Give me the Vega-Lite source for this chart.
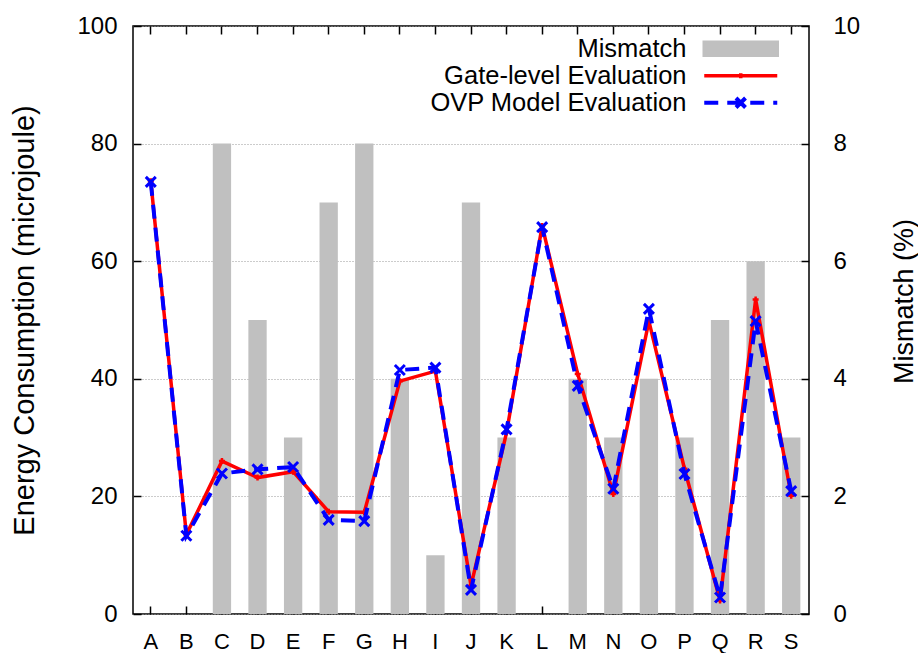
{
  "$schema": "https://vega.github.io/schema/vega-lite/v6.json",
  "width": 676,
  "height": 588,
  "autosize": {"type": "none"},
  "padding": {"left": 133, "top": 26, "right": 109, "bottom": 39},
  "background": "#ffffff",
  "config": {
    "font": "Liberation Sans",
    "view": {"stroke": "#000000", "strokeWidth": 1.5},
    "axis": {
      "domain": false,
      "grid": false,
      "labelFont": "Liberation Sans",
      "labelFontSize": 24,
      "labelColor": "#000000",
      "titleFont": "Liberation Sans",
      "titleFontSize": 27,
      "titleFontWeight": "normal",
      "titleColor": "#000000"
    }
  },
  "datasets": {
    "energy": [
      {"cat": "A", "series": "Mismatch", "value": 0},
      {"cat": "B", "series": "Mismatch", "value": 0},
      {"cat": "C", "series": "Mismatch", "value": 8},
      {"cat": "D", "series": "Mismatch", "value": 5},
      {"cat": "E", "series": "Mismatch", "value": 3},
      {"cat": "F", "series": "Mismatch", "value": 7},
      {"cat": "G", "series": "Mismatch", "value": 8},
      {"cat": "H", "series": "Mismatch", "value": 4},
      {"cat": "I", "series": "Mismatch", "value": 1},
      {"cat": "J", "series": "Mismatch", "value": 7},
      {"cat": "K", "series": "Mismatch", "value": 3},
      {"cat": "L", "series": "Mismatch", "value": 0},
      {"cat": "M", "series": "Mismatch", "value": 4},
      {"cat": "N", "series": "Mismatch", "value": 3},
      {"cat": "O", "series": "Mismatch", "value": 4},
      {"cat": "P", "series": "Mismatch", "value": 3},
      {"cat": "Q", "series": "Mismatch", "value": 5},
      {"cat": "R", "series": "Mismatch", "value": 6},
      {"cat": "S", "series": "Mismatch", "value": 3},
      {"cat": "A", "series": "Gate-level Evaluation", "value": 73.6},
      {"cat": "B", "series": "Gate-level Evaluation", "value": 13.5},
      {"cat": "C", "series": "Gate-level Evaluation", "value": 26.0},
      {"cat": "D", "series": "Gate-level Evaluation", "value": 23.2},
      {"cat": "E", "series": "Gate-level Evaluation", "value": 24.2},
      {"cat": "F", "series": "Gate-level Evaluation", "value": 17.4},
      {"cat": "G", "series": "Gate-level Evaluation", "value": 17.3},
      {"cat": "H", "series": "Gate-level Evaluation", "value": 39.6},
      {"cat": "I", "series": "Gate-level Evaluation", "value": 41.3},
      {"cat": "J", "series": "Gate-level Evaluation", "value": 4.8},
      {"cat": "K", "series": "Gate-level Evaluation", "value": 30.9},
      {"cat": "L", "series": "Gate-level Evaluation", "value": 66.0},
      {"cat": "M", "series": "Gate-level Evaluation", "value": 40.8},
      {"cat": "N", "series": "Gate-level Evaluation", "value": 20.4},
      {"cat": "O", "series": "Gate-level Evaluation", "value": 49.8},
      {"cat": "P", "series": "Gate-level Evaluation", "value": 24.7},
      {"cat": "Q", "series": "Gate-level Evaluation", "value": 2.3},
      {"cat": "R", "series": "Gate-level Evaluation", "value": 53.5},
      {"cat": "S", "series": "Gate-level Evaluation", "value": 20.1},
      {"cat": "A", "series": "OVP Model Evaluation", "value": 73.5},
      {"cat": "B", "series": "OVP Model Evaluation", "value": 13.3},
      {"cat": "C", "series": "OVP Model Evaluation", "value": 23.9},
      {"cat": "D", "series": "OVP Model Evaluation", "value": 24.6},
      {"cat": "E", "series": "OVP Model Evaluation", "value": 25.0},
      {"cat": "F", "series": "OVP Model Evaluation", "value": 16.0},
      {"cat": "G", "series": "OVP Model Evaluation", "value": 15.8},
      {"cat": "H", "series": "OVP Model Evaluation", "value": 41.5},
      {"cat": "I", "series": "OVP Model Evaluation", "value": 41.9},
      {"cat": "J", "series": "OVP Model Evaluation", "value": 4.1},
      {"cat": "K", "series": "OVP Model Evaluation", "value": 31.4},
      {"cat": "L", "series": "OVP Model Evaluation", "value": 65.8},
      {"cat": "M", "series": "OVP Model Evaluation", "value": 38.8},
      {"cat": "N", "series": "OVP Model Evaluation", "value": 21.3},
      {"cat": "O", "series": "OVP Model Evaluation", "value": 51.9},
      {"cat": "P", "series": "OVP Model Evaluation", "value": 23.8},
      {"cat": "Q", "series": "OVP Model Evaluation", "value": 2.8},
      {"cat": "R", "series": "OVP Model Evaluation", "value": 49.8},
      {"cat": "S", "series": "OVP Model Evaluation", "value": 20.9}
    ]
  },
  "data": {"name": "energy"},
  "layer": [
    {
      "transform": [{"filter": "datum.series === 'Mismatch'"}],
      "mark": {"type": "bar", "width": {"band": 0.515}},
      "encoding": {
        "x": {
          "field": "cat", "type": "nominal", "sort": null,
          "scale": {"type": "band", "paddingInner": 0, "paddingOuter": 0},
          "axis": {"orient": "top", "labels": false, "title": null, "ticks": true, "tickSize": 8, "tickColor": "#000000", "tickWidth": 1.5, "offset": -8}
        },
        "y": {
          "field": "value", "type": "quantitative",
          "scale": {"domain": [0, 10], "nice": false},
          "axis": {
            "orient": "right", "values": [0, 2, 4, 6, 8, 10],
            "ticks": true, "tickSize": 8, "tickColor": "#000000", "tickWidth": 1.5, "offset": -8,
            "title": "Mismatch (%)", "labelAlign": "left", "labelPadding": 24,
            "titleAngle": 270, "titleAlign": "center", "titleBaseline": "alphabetic",
            "titleX": 111, "titleY": 275
          }
        },
        "color": {
          "field": "series", "type": "nominal",
          "scale": {
            "domain": ["Mismatch", "Gate-level Evaluation", "OVP Model Evaluation"],
            "range": ["#c0c0c0", "#ff0000", "#0000ff"]
          },
          "legend": {
            "title": null,
            "orient": "none",
            "legendX": 595,
            "legendY": 10,
            "labelAlign": "right",
            "labelOffset": -67,
            "labelLimit": 0,
            "labelFont": "Liberation Sans",
            "labelFontSize": 25.5,
            "labelColor": "#000000",
            "symbolSize": 5329,
            "rowPadding": 0,
            "encode": {
              "symbols": {
                "update": {
                  "shape": {"signal": "datum.value === 'Mismatch' ? 'M-1,-0.18H1V0.18H-1Z' : datum.value === 'Gate-level Evaluation' ? 'M-1,0H1M0,-0.07V0.07M-0.07,0H0.07' : 'M-1,0H1M-0.13,-0.13L0.13,0.13M-0.13,0.13L0.13,-0.13'"},
                  "fill": {"signal": "datum.value === 'Mismatch' ? '#c0c0c0' : 'transparent'"},
                  "stroke": {"signal": "datum.value === 'Mismatch' ? 'transparent' : datum.value === 'Gate-level Evaluation' ? '#ff0000' : '#0000ff'"},
                  "strokeWidth": {"signal": "datum.value === 'OVP Model Evaluation' ? 4 : 3.5"},
                  "strokeDash": {"signal": "datum.value === 'OVP Model Evaluation' ? [14, 9] : []"},
                  "opacity": {"value": 1}
                }
              }
            }
          }
        }
      }
    },
    {
      "encoding": {
        "x": {
          "field": "cat", "type": "nominal", "sort": null,
          "scale": {"type": "band", "paddingInner": 0, "paddingOuter": 0},
          "axis": {
            "orient": "bottom", "labelAngle": 0, "title": null,
            "ticks": true, "tickSize": 8, "tickColor": "#000000", "tickWidth": 1.5, "offset": -8,
            "labelFontSize": 22, "labelPadding": 17
          }
        },
        "y": {
          "field": "value", "type": "quantitative",
          "scale": {"domain": [0, 100], "nice": false},
          "axis": {
            "orient": "left", "values": [0, 20, 40, 60, 80, 100],
            "ticks": true, "tickSize": 8, "tickColor": "#000000", "tickWidth": 1.5, "offset": -8,
            "title": "Energy Consumption (microjoule)",
            "titleFontSize": 29,
            "labelPadding": 16, "titlePadding": 37,
            "grid": true, "gridColor": "#999999", "gridDash": [1, 2], "gridWidth": 1
          }
        },
        "color": {"field": "series", "type": "nominal"}
      },
      "layer": [
        {
          "transform": [{"filter": "datum.series === 'Gate-level Evaluation'"}],
          "mark": {"type": "line", "strokeWidth": 3.5}
        },
        {
          "transform": [{"filter": "datum.series === 'Gate-level Evaluation'"}],
          "mark": {"type": "point", "shape": "M-1,0H1M0,-1V1", "filled": false, "size": 36, "strokeWidth": 2.5, "opacity": 1}
        },
        {
          "transform": [{"filter": "datum.series === 'OVP Model Evaluation'"}],
          "mark": {"type": "line", "strokeWidth": 4, "strokeDash": [14, 9]}
        },
        {
          "transform": [{"filter": "datum.series === 'OVP Model Evaluation'"}],
          "mark": {"type": "point", "shape": "M-1,-1L1,1M-1,1L1,-1", "filled": false, "size": 100, "strokeWidth": 3, "opacity": 1}
        }
      ]
    }
  ],
  "resolve": {"scale": {"y": "independent"}, "axis": {"x": "independent"}}
}
